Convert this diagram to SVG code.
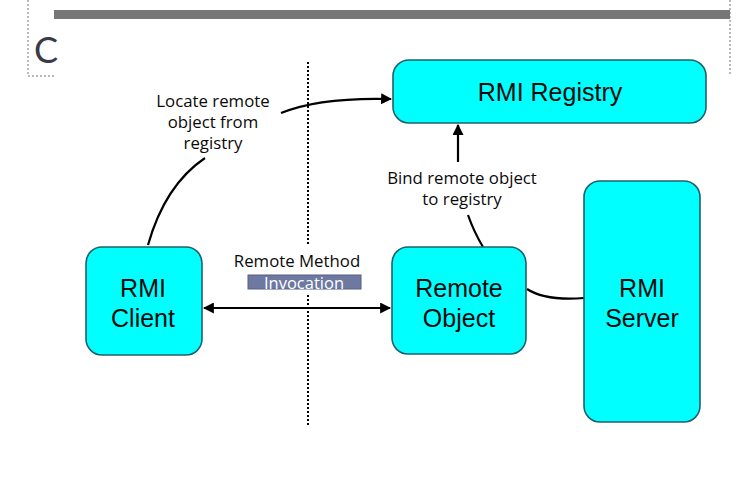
<svg xmlns="http://www.w3.org/2000/svg" width="744" height="501" viewBox="0 0 744 501">
<style>
.node{fill:#00FFFF;stroke:#22606a;stroke-width:1.6}
.big{font-family:"Liberation Sans",Arial,sans-serif;font-size:25px;fill:#0a0a0a;text-anchor:middle}
.lbl{font-family:"Open Sans","Liberation Sans",sans-serif;font-size:16.8px;fill:#0a0a0a;text-anchor:middle}
.conn{fill:none;stroke:#000;stroke-width:2.2}
.frame{fill:none;stroke:#777;stroke-width:1;stroke-dasharray:2,2}
</style>
<defs>
<marker id="ah" viewBox="0 0 10 10" refX="9" refY="5" markerWidth="5" markerHeight="5" orient="auto-start-reverse" markerUnits="strokeWidth">
<path d="M0,0 L10,5 L0,10 Z" fill="#000"/>
</marker>
</defs>
<rect width="744" height="501" fill="#fff"/>
<g id="slide-frame">
<path class="frame" d="M28,0 V76 H54"/>
<path class="frame" d="M730,0 V76"/>
<rect x="54" y="10" width="676" height="9" fill="#777"/>
<text x="34" y="63" font-family="Lato,'Open Sans',sans-serif" font-size="36" fill="#3a3a48">C</text>
</g>
<g id="connectors">
<path d="M308,62 V245" fill="none" stroke="#000" stroke-width="2" stroke-dasharray="2,2"/>
<path d="M308,295 V425" fill="none" stroke="#000" stroke-width="2" stroke-dasharray="2,2"/>
<path class="conn" d="M281,113 Q320,97 391,99" marker-end="url(#ah)"/>
<path class="conn" d="M148,245 Q165,185 205,158"/>
<path class="conn" d="M458,162 V125" marker-end="url(#ah)"/>
<path class="conn" d="M468,215 Q474,232 483,247"/>
<path class="conn" d="M204,308 H390" marker-start="url(#ah)" marker-end="url(#ah)"/>
<path class="conn" d="M527,289 Q545,301 584,298"/>
<g id="label-locate">
<text class="lbl"><tspan x="213" y="107">Locate remote</tspan><tspan x="213" y="128">object from</tspan><tspan x="213" y="149">registry</tspan></text>
</g>
<g id="label-bind">
<text class="lbl"><tspan x="462" y="184">Bind remote object</tspan><tspan x="462" y="205">to registry</tspan></text>
</g>
<g id="label-rmi-invocation">
<text class="lbl" x="297" y="267">Remote Method</text>
<rect x="248" y="275" width="113" height="14" fill="#6e79a2" stroke="#555f85" stroke-width="1"/>
<text class="lbl" x="304" y="289" style="fill:#fff;font-size:16.5px">Invocation</text>
</g>
</g>
<g id="rmi-registry">
<rect class="node" x="393" y="60" width="313" height="63" rx="16"/>
<text class="big" x="550" y="101">RMI Registry</text>
</g>
<g id="rmi-client">
<rect class="node" x="86" y="247" width="116" height="108" rx="16"/>
<text class="big"><tspan x="143" y="297">RMI</tspan><tspan x="143" y="327">Client</tspan></text>
</g>
<g id="remote-object">
<rect class="node" x="392" y="247" width="134" height="107" rx="16"/>
<text class="big"><tspan x="459" y="297">Remote</tspan><tspan x="459" y="327">Object</tspan></text>
</g>
<g id="rmi-server">
<rect class="node" x="584" y="181" width="116" height="241" rx="16"/>
<text class="big"><tspan x="642" y="297">RMI</tspan><tspan x="642" y="327">Server</tspan></text>
</g>
</svg>
